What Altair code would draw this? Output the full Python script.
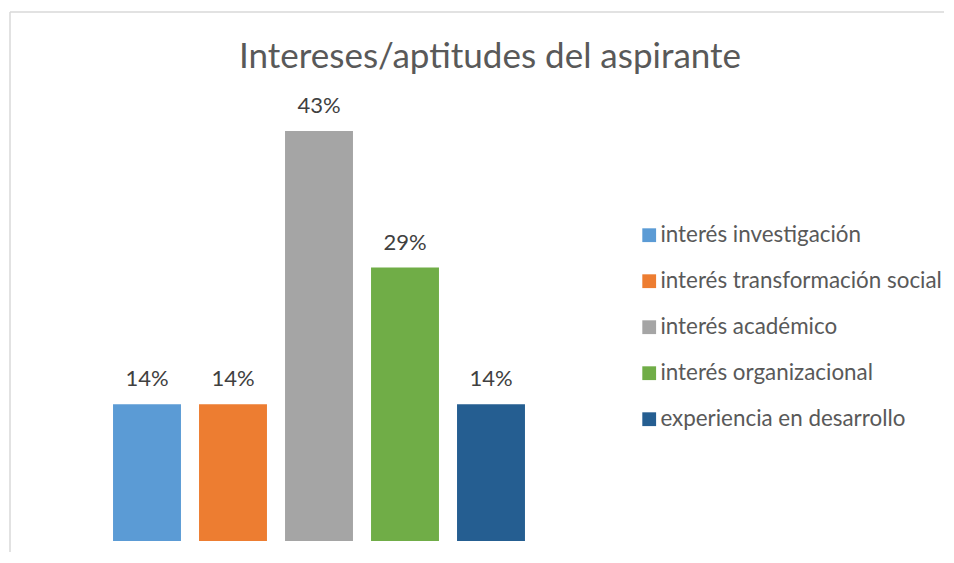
import altair as alt
import pandas as pd

categories = ["interés investigación", "interés transformación social", "interés académico",
              "interés organizacional", "experiencia en desarrollo"]
values = [14.3, 14.3, 42.9, 28.6, 14.3]
labels = ["14%", "14%", "43%", "29%", "14%"]
colors = ["#5B9BD5", "#ED7D31", "#A5A5A5", "#70AD47", "#255E91"]
title_text = "Intereses/aptitudes del aspirante"

df = pd.DataFrame({"cat": categories, "val": values, "lab": labels})

W, H = 934, 540
FONT = "Lato"

xenc = alt.X("cat:N", sort=categories, axis=None,
             scale=alt.Scale(range=[94, 524], paddingInner=0.21, paddingOuter=0.105))
yenc = alt.Y("val:Q", axis=None, scale=alt.Scale(domain=[0, 50], range=[529, 51]))

bars = alt.Chart(df).mark_bar().encode(
    x=xenc, y=yenc,
    color=alt.Color("cat:N", sort=categories,
                    scale=alt.Scale(domain=categories, range=colors),
                    legend=alt.Legend(title=None, orient="none", legendX=628, legendY=212,
                                      symbolType="square", symbolSize=190, symbolStrokeWidth=0,
                                      labelFont=FONT, labelFontSize=22.4, labelColor="#595959",
                                      labelOffset=0, rowPadding=23, padding=0, labelLimit=400))
)

text = alt.Chart(df).mark_text(baseline="alphabetic", dy=-18, font=FONT, fontSize=22,
                               color="#404040").encode(x=xenc, y=yenc, text="lab:N")

one = pd.DataFrame({"t": [title_text]})
title = alt.Chart(one).mark_text(font=FONT, fontSize=35, color="#595959",
                                 baseline="alphabetic", align="center").encode(
    x=alt.value(480), y=alt.value(56), text="t:N")

top_border = alt.Chart(one).mark_rule(color="#D9D9D9", strokeWidth=1.5).encode(
    x=alt.value(0), x2=alt.value(W), y=alt.value(0))
left_border = alt.Chart(one).mark_rule(color="#D9D9D9", strokeWidth=1.5).encode(
    x=alt.value(0), y=alt.value(0), y2=alt.value(H))

chart = alt.layer(top_border, left_border, bars, text, title).properties(
    width=W, height=H,
    autosize=alt.AutoSizeParams(type="none"),
    padding={"left": 2, "top": 4, "right": 0, "bottom": 0},
).configure_view(stroke=None)

chart.save("out.html", embed_options={"renderer": "svg", "actions": False})
